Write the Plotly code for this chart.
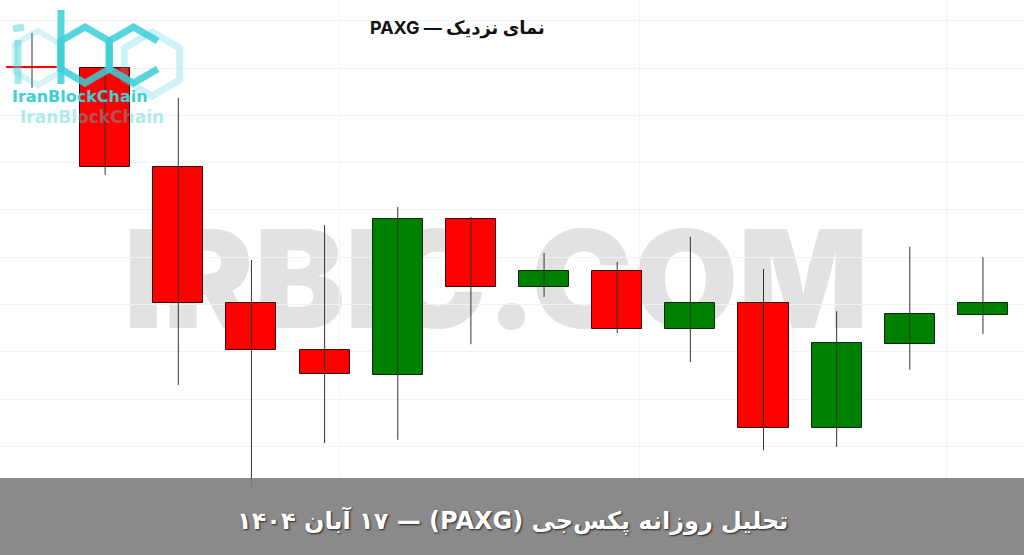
import math
import plotly.graph_objects as go

W, H = 1024, 555

# ---------------- data ----------------
candle_idx = list(range(14))
opens  = [4040.3, 4040.0, 4019.0, 3990.4, 3980.4, 3975.1, 4008.1, 3993.7, 3997.1, 3984.8, 3990.3, 3963.9, 3981.7, 3987.8]
highs  = [4047.4, 4040.0, 4033.7, 3999.4, 4006.8, 4010.6, 4008.5, 4000.9, 3999.0, 4004.3, 3997.5, 3988.6, 4002.2, 4000.0]
lows   = [4035.8, 4017.4, 3973.0, 3951.4, 3960.7, 3961.4, 3981.6, 3991.6, 3984.0, 3977.8, 3959.2, 3959.9, 3976.2, 3983.8]
closes = [4040.1, 4019.0, 3990.3, 3980.4, 3975.3, 4008.1, 3993.7, 3997.1, 3984.8, 3990.3, 3963.9, 3981.9, 3988.0, 3990.3]

title_text = "\u202bنمای نزدیک — PAXG\u202c"
banner_text = "\u202bتحلیل روزانه پکس\u200cجی (PAXG) — ۱۷ آبان ۱۴۰۴\u202c"
watermark_text = "IRBIC.COM"
logo_text = "IranBlockChain"

# ---------------- styling ----------------
UP, DOWN = "#008000", "#ff0000"
is_up = [c > o for o, c in zip(opens, closes)]
body_colors = [UP if u else DOWN for u in is_up]
edge_colors = []
for o, c, u in zip(opens, closes, is_up):
    if abs(c - o) < 0.5:
        edge_colors.append(DOWN)
    else:
        edge_colors.append("#0b2a0b" if u else "#3a0606")

fig = go.Figure()

# bodies
fig.add_trace(go.Bar(
    x=candle_idx,
    y=[abs(c - o) for o, c in zip(opens, closes)],
    base=[min(o, c) for o, c in zip(opens, closes)],
    width=0.684,
    marker=dict(color=body_colors, line=dict(color=edge_colors, width=1)),
    hoverinfo="skip",
    showlegend=False,
))

# wicks
wx, wy = [], []
for i, hi, lo in zip(candle_idx, highs, lows):
    wx += [i, i, None]
    wy += [lo, hi, None]
fig.add_trace(go.Scatter(
    x=wx, y=wy, mode="lines",
    line=dict(color="#333333", width=1),
    hoverinfo="skip", showlegend=False,
))


def P(x, y):
    return x / W, 1 - y / H


shapes = []

# watermark (below traces)
x0, y0 = P(100, 326)
x1, y1 = P(892, 222)
shapes.append(dict(
    type="rect", xref="paper", yref="paper", x0=x0, y0=y0, x1=x1, y1=y1,
    line=dict(width=0), fillcolor="rgba(0,0,0,0)", layer="below",
    label=dict(text=watermark_text, textposition="middle center",
               font=dict(family="Inter", size=136, color="#e2e2e2", weight=900)),
))

# banner
bx0, by0 = P(0, 555)
bx1, by1 = P(1024, 478)
shapes.append(dict(
    type="rect", xref="paper", yref="paper", x0=bx0, y0=by0, x1=bx1, y1=by1,
    line=dict(width=0), fillcolor="rgba(125,125,125,0.9)", layer="above",
))


# logo (decorative)
def hex_path(cx, cy, r, open_right=False):
    angs = [30, 90, 150, 210, 270, 330]
    pts = [P(cx + r * math.cos(math.radians(a)), cy + r * math.sin(math.radians(a))) for a in angs]
    d = "M %f,%f " % pts[0] + " ".join("L %f,%f" % p for p in pts[1:])
    if not open_right:
        d += " Z"
    return d


def seg_path(xa, ya, xb, yb):
    a, b = P(xa, ya), P(xb, yb)
    return "M %f,%f L %f,%f" % (a[0], a[1], b[0], b[1])


CYAN = "#3ccfd8"
logo_parts = [
    (hex_path(38, 58, 27), 6, 0.22),
    (hex_path(152, 64, 32), 7, 0.25),
    (seg_path(18, 40, 18, 84), 7, 0.45),
    (seg_path(13, 29, 24, 27), 7, 0.45),
    (seg_path(61, 10, 61, 84), 7, 0.85),
    (hex_path(85, 55, 28), 7, 0.85),
    (hex_path(133.5, 55, 28, open_right=True), 7, 0.85),
]
for d, wdt, op in logo_parts:
    shapes.append(dict(type="path", xref="paper", yref="paper", path=d,
                       line=dict(color=CYAN, width=wdt), opacity=op, layer="above"))

annotations = [
    dict(text=title_text, x=P(457, 28)[0], y=P(457, 28)[1], xref="paper", yref="paper",
         xanchor="center", yanchor="middle", showarrow=False,
         font=dict(family="Inter, DejaVu Sans", size=18, color="#111111", weight="bold")),
    dict(text=banner_text, x=P(512, 520)[0], y=P(512, 520)[1], xref="paper", yref="paper",
         xanchor="center", yanchor="middle", showarrow=False,
         font=dict(family="DejaVu Sans", size=24, color="#ffffff", weight="bold",
                   shadow="1px 1px 2px #222222")),
    dict(text=logo_text, x=P(10, 96)[0], y=P(10, 96)[1], xref="paper", yref="paper",
         xanchor="left", yanchor="middle", showarrow=False,
         font=dict(family="DejaVu Sans", size=16, color=CYAN, weight="bold")),
    dict(text=logo_text, x=P(18, 117)[0], y=P(18, 117)[1], xref="paper", yref="paper",
         xanchor="left", yanchor="middle", showarrow=False, opacity=0.4,
         font=dict(family="DejaVu Sans", size=17, color=CYAN, weight="bold")),
]

# axis ranges in data units
x_left = -32 / 73.15
x_right = (1024 - 32) / 73.15
y_top = 4040 + 68 / 4.73
y_bottom = 4040 - 487 / 4.73

fig.update_layout(
    width=W, height=H,
    margin=dict(l=0, r=0, t=0, b=0),
    paper_bgcolor="white", plot_bgcolor="white",
    shapes=shapes, annotations=annotations,
    bargap=0, showlegend=False,
    xaxis=dict(range=[x_left, x_right], showticklabels=False, zeroline=False, showline=False,
               tickvals=[4.21, 8.3, 12.5], showgrid=True, gridcolor="#f3f3f3", ticks=""),
    yaxis=dict(range=[y_bottom, y_top], showticklabels=False, zeroline=False, showline=False,
               tick0=4040, dtick=10, showgrid=True, gridcolor="#f3f3f3", ticks=""),
)

fig.write_html("out.html", config={"displayModeBar": False},
               post_script="document.body.style.margin='0';document.body.style.overflow='hidden';")
